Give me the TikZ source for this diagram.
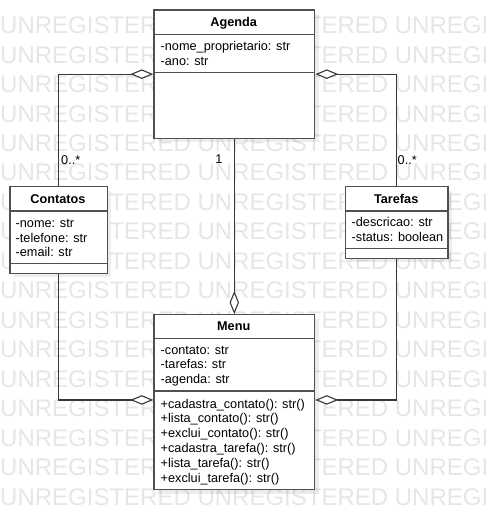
\documentclass[tikz,border=0pt]{standalone}
\usepackage{fontspec}
\setmainfont{Liberation Sans}
\usetikzlibrary{arrows.meta,shadows}
\definecolor{edge}{HTML}{505050}
\definecolor{linkc}{HTML}{383838}
\definecolor{wm}{HTML}{E6E6E6}
\begin{document}
\begin{tikzpicture}[x=1pt,y=-1pt,
  font=\fontsize{12.7}{15}\selectfont,
  wmark/.style={anchor=base west, inner sep=0pt, text=wm, font=\fontsize{24}{24}\selectfont},
  classbox/.style={draw=edge, line width=1.3pt, fill=white, inner sep=0pt, anchor=north west,
    drop shadow={shadow xshift=4pt, shadow yshift=-4pt, fill=black, opacity=0.07}},
  sepline/.style={draw=edge, line width=1.3pt},
  title/.style={anchor=base, inner sep=0pt, font=\fontsize{12.7}{15}\selectfont\bfseries},
  member/.style={anchor=base west, inner sep=0pt},
  lbl/.style={inner sep=0pt},
  conn/.style={draw=linkc, line width=1.1pt, line join=miter,
    -{Diamond[fill=white, length=23pt, width=9.5pt]}},
]
\useasboundingbox (0,0) rectangle (487,529);

% watermark rows
\begin{scope}
  \clip (0,0) rectangle (487,529);
  \foreach \i in {0,...,16}
    \node[wmark] (wm\i) at (0,33.6+29.48*\i) {UNREGISTERED UNREGISTERED UNREGISTERED};
\end{scope}

% class boxes
\node[classbox, minimum width=160.7pt, minimum height=128.4pt] (agenda)   at (153.3,9.3) {};
\node[classbox, minimum width=97.4pt,  minimum height=86.7pt]  (contatos) at (9.3,186) {};
\node[classbox, minimum width=102.3pt, minimum height=71.7pt]  (tarefas)  at (345,186) {};
\node[classbox, minimum width=160.7pt, minimum height=175pt]   (menu)     at (153.3,314) {};

% compartment separators
\draw[sepline] ([yshift=-25pt]agenda.north west) -- ([yshift=-25pt]agenda.north east);
\draw[sepline] ([yshift=-63pt]agenda.north west) -- ([yshift=-63pt]agenda.north east);
\draw[sepline] ([yshift=-25pt]contatos.north west) -- ([yshift=-25pt]contatos.north east);
\draw[sepline] ([yshift=-77.7pt]contatos.north west) -- ([yshift=-77.7pt]contatos.north east);
\draw[sepline] ([yshift=-25pt]tarefas.north west) -- ([yshift=-25pt]tarefas.north east);
\draw[sepline] ([yshift=-62.7pt]tarefas.north west) -- ([yshift=-62.7pt]tarefas.north east);
\draw[sepline] ([yshift=-24.7pt]menu.north west) -- ([yshift=-24.7pt]menu.north east);
\draw[sepline] ([yshift=-77pt]menu.north west) -- ([yshift=-77pt]menu.north east);

% Agenda
\node[title]  (agendaT) at (233.7,26.7) {Agenda};
\node[member] (agA1) at (160.5,50.7) {-nome\_proprietario: str};
\node[member] (agA2) at (160.5,65.2) {-ano: str};

% Contatos
\node[title]  (contatosT) at (58,203.3) {Contatos};
\node[member] (coA1) at (15.5,227.4) {-nome: str};
\node[member] (coA2) at (15.5,242) {-telefone: str};
\node[member] (coA3) at (15.5,256.4) {-email: str};

% Tarefas
\node[title]  (tarefasT) at (396.2,203.3) {Tarefas};
\node[member] (taA1) at (351.5,226.8) {-descricao: str};
\node[member] (taA2) at (351.5,241.6) {-status: boolean};

% Menu
\node[title]  (menuT) at (233.7,330.7) {Menu};
\node[member] (meA1) at (160.5,354) {-contato: str};
\node[member] (meA2) at (160.5,368.6) {-tarefas: str};
\node[member] (meA3) at (160.5,383.2) {-agenda: str};
\node[member] (meM1) at (160.5,408) {+cadastra\_contato(): str()};
\node[member] (meM2) at (160.5,422.8) {+lista\_contato(): str()};
\node[member] (meM3) at (160.5,437.6) {+exclui\_contato(): str()};
\node[member] (meM4) at (160.5,452.4) {+cadastra\_tarefa(): str()};
\node[member] (meM5) at (160.5,467.2) {+lista\_tarefa(): str()};
\node[member] (meM6) at (160.5,482) {+exclui\_tarefa(): str()};

% associations (aggregation diamonds)
\draw[conn] (contatos.north) |- (agenda.west);
\draw[conn] (tarefas.north) |- (agenda.east);
\draw[conn] (agenda.south) -- (menu.north);
\draw[conn] (contatos.south) |- ([yshift=2.2pt]menu.west);
\draw[conn] (tarefas.south) |- ([yshift=2.2pt]menu.east);

% multiplicities
\node[lbl, anchor=base]      (mOne)  at (219,164) {1};
\node[lbl, anchor=base west] (mCont) at (61,165)  {0..*};
\node[lbl, anchor=base west] (mTar)  at (397.5,165) {0..*};
\end{tikzpicture}
\end{document}
